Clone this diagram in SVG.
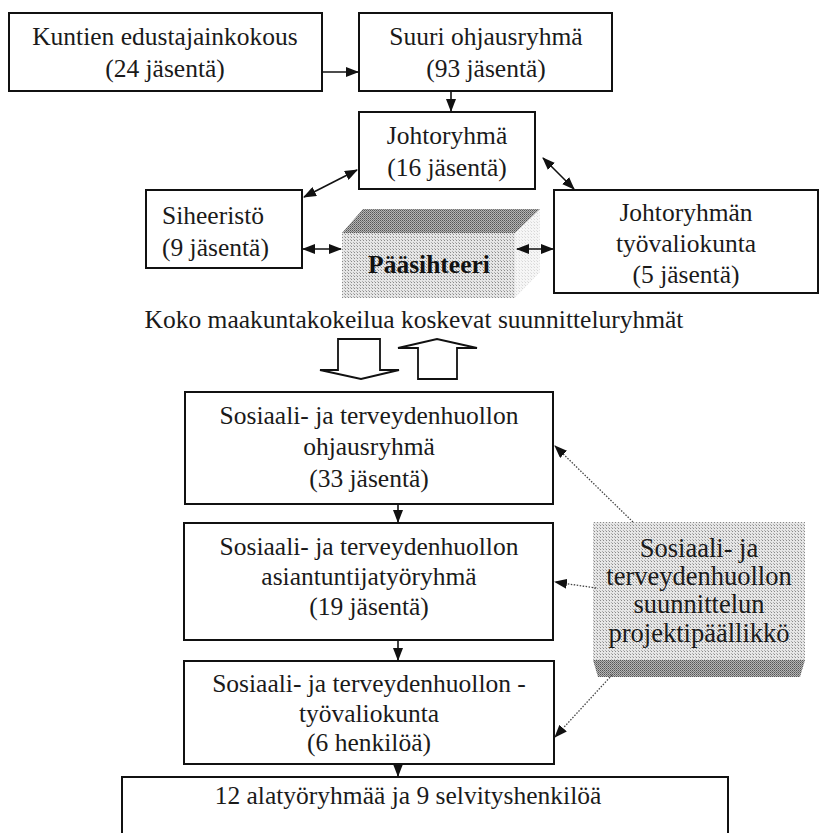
<svg xmlns="http://www.w3.org/2000/svg" width="820" height="833" viewBox="0 0 820 833">
<style>
.box{fill:#fff;stroke:#111;stroke-width:2}
.t{font-family:"Liberation Serif","Times New Roman",serif;font-size:25.5px;fill:#1a1a1a;text-anchor:middle}
.tl{text-anchor:start}
.b{font-weight:bold;fill:#111}
.p{font-size:26.5px}
.c{stroke:#111;stroke-width:1.6;fill:none}
.d{stroke:#444;stroke-width:1.3;fill:none;stroke-dasharray:1.5 1.5}
.blk{fill:#fff;stroke:#111;stroke-width:1.8}
</style>
<defs>
<marker id="ah" viewBox="0 0 13 10" refX="12" refY="5" markerWidth="13" markerHeight="10" markerUnits="userSpaceOnUse" orient="auto-start-reverse"><path d="M0,0 L13,5 L0,10 z" fill="#111"/></marker>
<pattern id="lt" width="3" height="3" patternUnits="userSpaceOnUse"><rect width="3" height="3" fill="#e6e6e6"/><rect width="1" height="1" fill="#8a8a8a"/><rect x="2" y="2" width="1" height="1" fill="#b0b0b0"/></pattern>
<pattern id="dk" width="2" height="2" patternUnits="userSpaceOnUse"><rect width="2" height="2" fill="#b5b5b5"/><rect width="1" height="1" fill="#555"/><rect x="1" y="1" width="1" height="1" fill="#777"/></pattern>
</defs>

<g id="kuntien">
<rect class="box" x="9" y="13" width="313" height="78"/>
<text class="t" x="165" y="45">Kuntien edustajainkokous</text>
<text class="t" x="165" y="77">(24 jäsentä)</text>
</g>
<g id="suuri">
<rect class="box" x="359" y="13" width="253" height="78"/>
<text class="t" x="486" y="45">Suuri ohjausryhmä</text>
<text class="t" x="486" y="77">(93 jäsentä)</text>
</g>
<g id="johtoryhma">
<rect class="box" x="359" y="112" width="176" height="77"/>
<text class="t" x="447" y="144">Johtoryhmä</text>
<text class="t" x="447" y="176">(16 jäsentä)</text>
</g>
<g id="siheeristo">
<rect class="box" x="146" y="190" width="156" height="78"/>
<text class="t tl" x="162" y="224">Siheeristö</text>
<text class="t tl" x="162" y="256">(9 jäsentä)</text>
</g>
<g id="paasihteeri">
<polygon points="342,233 363,209 540,209 515,233" fill="url(#dk)"/>
<polygon points="515,233 540,209 540,272 515,298" fill="url(#lt)" opacity="0.35"/>
<rect x="342" y="233" width="173" height="65" fill="url(#lt)"/>
<text class="t b" x="429" y="273">Pääsihteeri</text>
</g>
<g id="tyovaliokunta">
<rect class="box" x="554" y="190" width="264" height="103"/>
<text class="t" x="686" y="221">Johtoryhmän</text>
<text class="t" x="686" y="252">työvaliokunta</text>
<text class="t" x="686" y="283">(5 jäsentä)</text>
</g>
<g id="koko">
<text class="t" x="414" y="328">Koko maakuntakokeilua koskevat suunnitteluryhmät</text>
</g>
<g id="sos-ohjausryhma">
<rect class="box" x="185" y="392" width="368" height="112"/>
<text class="t" x="369" y="424">Sosiaali- ja terveydenhuollon</text>
<text class="t" x="369" y="455">ohjausryhmä</text>
<text class="t" x="369" y="487">(33 jäsentä)</text>
</g>
<g id="sos-asiantuntija">
<rect class="box" x="184" y="523" width="369" height="117"/>
<text class="t" x="369" y="555">Sosiaali- ja terveydenhuollon</text>
<text class="t" x="369" y="585">asiantuntijatyöryhmä</text>
<text class="t" x="369" y="615">(19 jäsentä)</text>
</g>
<g id="sos-tyovaliokunta">
<rect class="box" x="184" y="661" width="370" height="103"/>
<text class="t" x="369" y="692">Sosiaali- ja terveydenhuollon -</text>
<text class="t" x="369" y="722">työvaliokunta</text>
<text class="t" x="369" y="751">(6 henkilöä)</text>
</g>
<g id="alatyoryhmat">
<rect class="box" x="122" y="777" width="606" height="70"/>
<text class="t" x="408" y="804">12 alatyöryhmää ja 9 selvityshenkilöä</text>
</g>
<g id="projektipaallikko">
<rect x="593" y="522" width="212" height="138" fill="url(#lt)"/>
<polygon points="593,660 805,660 800,677 598,677" fill="url(#dk)"/>
<text class="t p" x="699" y="557">Sosiaali- ja</text>
<text class="t p" x="699" y="585">terveydenhuollon</text>
<text class="t p" x="699" y="613">suunnittelun</text>
<text class="t p" x="699" y="642">projektipäällikkö</text>
</g>

<g id="connectors">
<line class="c" x1="322" y1="72" x2="358" y2="72" marker-end="url(#ah)"/>
<line class="c" x1="451" y1="91" x2="451" y2="111" marker-end="url(#ah)"/>
<line class="c" x1="304" y1="197" x2="357" y2="170" marker-start="url(#ah)" marker-end="url(#ah)"/>
<line class="c" x1="543" y1="158" x2="574" y2="189" marker-start="url(#ah)" marker-end="url(#ah)"/>
<line class="c" x1="303" y1="249" x2="341" y2="249" marker-start="url(#ah)" marker-end="url(#ah)"/>
<line class="c" x1="517" y1="249" x2="553" y2="249" marker-start="url(#ah)" marker-end="url(#ah)"/>
<line class="c" x1="398" y1="504" x2="398" y2="522" marker-end="url(#ah)"/>
<line class="c" x1="398" y1="640" x2="398" y2="660" marker-end="url(#ah)"/>
<line class="c" x1="398" y1="764" x2="398" y2="776" marker-end="url(#ah)"/>
<line class="d" x1="633" y1="522" x2="555" y2="446" marker-end="url(#ah)"/>
<line class="d" x1="596" y1="588" x2="555" y2="582" marker-end="url(#ah)"/>
<line class="d" x1="612" y1="675" x2="555" y2="737" marker-end="url(#ah)"/>
<polygon class="blk" points="338,339 380,339 380,370 399,370 361,379 320,370 338,370"/>
<polygon class="blk" points="418,379 457,379 457,348 477,348 437,339 398,348 418,348"/>
</g>
</svg>
